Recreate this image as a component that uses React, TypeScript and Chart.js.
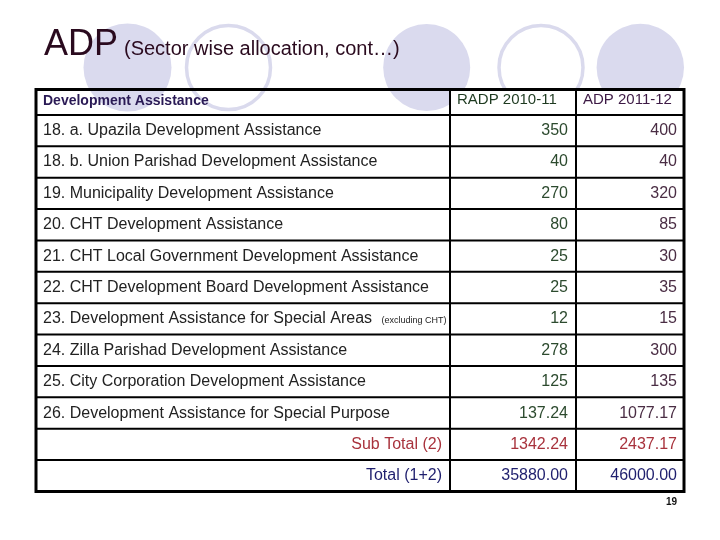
import { useEffect, useRef } from 'react';
import { Chart, registerables } from 'chart.js';

Chart.register(...registerables);

// ---------- data ----------
const titleMain = 'ADP';
const titleSub = '(Sector wise allocation, cont…)';
const headers = ['Development Assistance', 'RADP 2010-11', 'ADP 2011-12'];
const categories = [
  '18. a. Upazila Development Assistance',
  '18. b. Union Parishad Development Assistance',
  '19. Municipality Development Assistance',
  '20. CHT Development Assistance',
  '21. CHT Local Government Development Assistance',
  '22. CHT Development Board Development Assistance',
  '23. Development Assistance for Special Areas',
  '24. Zilla Parishad Development Assistance',
  '25. City Corporation Development Assistance',
  '26. Development Assistance for Special Purpose',
  'Sub Total (2)',
  'Total (1+2)',
];
const notes = ['', '', '', '', '', '', '(excluding CHT)', '', '', '', '', ''];
const radp201011 = [350, 40, 270, 80, 25, 25, 12, 278, 125, 137.24, 1342.24, 35880.0];
const adp201112 = [400, 40, 320, 85, 30, 35, 15, 300, 135, 1077.17, 2437.17, 46000.0];
const rowKinds = ['item', 'item', 'item', 'item', 'item', 'item', 'item', 'item', 'item', 'item', 'subtotal', 'total'];
const pageNumber = '19';

// ---------- layout / style ----------
const FONT = '"Liberation Sans", Arial, sans-serif';
const COL_EDGES = [0, 414, 540, 648]; // x-scale units (table columns)
const HEADER_FRAC = 0.81; // header row height relative to a body row
const CIRCLES = [
  { cx: 127.5, cy: 67.5, r: 44, filled: true },
  { cx: 228.5, cy: 67.5, r: 42, filled: false },
  { cx: 426.7, cy: 67.5, r: 43.5, filled: true },
  { cx: 541, cy: 67.5, r: 42, filled: false },
  { cx: 640.3, cy: 67.5, r: 43.7, filled: true },
];
const KIND_COLORS: Record<string, string[]> = {
  item: ['#222222', '#2c4a2e', '#4a2d44'],
  subtotal: ['#a8323c', '#a8323c', '#a8323c'],
  total: ['#1f1f6e', '#1f1f6e', '#1f1f6e'],
};

const fmt = (v: number, i: number) => (rowKinds[i] === 'item' ? String(v) : v.toFixed(2));

const tablePlugin = {
  id: 'slideTable',
  beforeDraw(chart: any) {
    const ctx = chart.ctx as CanvasRenderingContext2D;
    ctx.save();
    ctx.fillStyle = '#ffffff';
    ctx.fillRect(0, 0, chart.width, chart.height);
    // decorative circles
    for (const c of CIRCLES) {
      ctx.beginPath();
      ctx.arc(c.cx, c.cy, c.r, 0, Math.PI * 2);
      if (c.filled) {
        ctx.fillStyle = '#dadaee';
        ctx.fill();
      } else {
        ctx.strokeStyle = '#dadaed';
        ctx.lineWidth = 3.5;
        ctx.stroke();
      }
    }
    // title
    ctx.fillStyle = '#2a0a1e';
    ctx.textBaseline = 'alphabetic';
    ctx.textAlign = 'left';
    ctx.font = `36px ${FONT}`;
    ctx.fillText(titleMain, 44, 55);
    ctx.font = `20px ${FONT}`;
    ctx.fillText(titleSub, 124, 55);
    ctx.restore();
  },
  afterDraw(chart: any) {
    const ctx = chart.ctx as CanvasRenderingContext2D;
    const xs = chart.scales.x;
    const ys = chart.scales.y;
    const px = (v: number) => xs.getPixelForValue(v);
    const py = (v: number) => ys.getPixelForValue(v);
    const n = categories.length;
    const L = px(COL_EDGES[0]);
    const R = px(COL_EDGES[3]);
    const T = py(-HEADER_FRAC);
    const B = py(n);
    const H0 = py(0);
    ctx.save();
    // white cells
    ctx.fillStyle = '#ffffff';
    ctx.fillRect(L, H0, R - L, B - H0);
    ctx.fillRect(px(COL_EDGES[1]), T, R - px(COL_EDGES[1]), H0 - T);
    // grid
    ctx.strokeStyle = '#000000';
    ctx.lineWidth = 2;
    ctx.beginPath();
    for (let i = 0; i < n; i++) {
      ctx.moveTo(L, py(i));
      ctx.lineTo(R, py(i));
    }
    for (const e of [COL_EDGES[1], COL_EDGES[2]]) {
      ctx.moveTo(px(e), T);
      ctx.lineTo(px(e), B);
    }
    ctx.stroke();
    ctx.lineWidth = 3;
    ctx.strokeRect(L, T, R - L, B - T);

    // header texts
    ctx.textBaseline = 'alphabetic';
    ctx.textAlign = 'left';
    ctx.font = `bold 14px ${FONT}`;
    ctx.fillStyle = '#2a1a55';
    ctx.fillText(headers[0], L + 7, H0 - 9.5);
    ctx.font = `15px ${FONT}`;
    ctx.fillStyle = '#1e3a20';
    ctx.fillText(headers[1], px(COL_EDGES[1]) + 7, H0 - 10.5);
    ctx.fillStyle = '#3d1a45';
    ctx.fillText(headers[2], px(COL_EDGES[2]) + 7, H0 - 10.5);

    // body texts from dataset elements
    const labelMeta = chart.getDatasetMeta(0);
    const m1 = chart.getDatasetMeta(1);
    const m2 = chart.getDatasetMeta(2);
    ctx.font = `16px ${FONT}`;
    for (let i = 0; i < n; i++) {
      const kind = rowKinds[i];
      const colors = KIND_COLORS[kind];
      const lp = labelMeta.data[i];
      ctx.fillStyle = colors[0];
      ctx.font = `16px ${FONT}`;
      if (kind === 'item') {
        ctx.textAlign = 'left';
        ctx.fillText(categories[i], lp.x, lp.y + 4.5);
        if (notes[i]) {
          const w = ctx.measureText(categories[i] + ' ').width;
          ctx.font = `9px ${FONT}`;
          ctx.fillText(notes[i], lp.x + w + 5, lp.y + 4.5);
          ctx.font = `16px ${FONT}`;
        }
      } else {
        ctx.textAlign = 'right';
        ctx.fillText(categories[i], px(COL_EDGES[1]) - 8, lp.y + 4.5);
      }
      ctx.textAlign = 'right';
      ctx.fillStyle = colors[1];
      ctx.fillText(fmt(radp201011[i], i), m1.data[i].x, m1.data[i].y + 4.5);
      ctx.fillStyle = colors[2];
      ctx.fillText(fmt(adp201112[i], i), m2.data[i].x, m2.data[i].y + 4.5);
    }
    // page number
    ctx.font = `bold 10px ${FONT}`;
    ctx.fillStyle = '#111111';
    ctx.textAlign = 'right';
    ctx.fillText(pageNumber, R - 7, B + 13.5);
    ctx.restore();
  },
};

export default function App() {
  const ref = useRef<HTMLCanvasElement | null>(null);
  useEffect(() => {
    document.body.style.margin = '0';
    const canvas = ref.current;
    if (!canvas) return;
    const rows = categories.map((_, i) => i + 0.5);
    const chart = new Chart(canvas, {
      type: 'scatter',
      data: {
        datasets: [
          { label: headers[0], data: rows.map((y) => ({ x: COL_EDGES[0] + 7, y })), pointRadius: 0 },
          { label: headers[1], data: rows.map((y) => ({ x: COL_EDGES[2] - 8, y })), pointRadius: 0 },
          { label: headers[2], data: rows.map((y) => ({ x: COL_EDGES[3] - 7, y })), pointRadius: 0 },
        ],
      },
      options: {
        animation: false,
        responsive: false,
        devicePixelRatio: 1,
        events: [],
        layout: { padding: { left: 36, right: 36, top: 89.5, bottom: 48.5 } },
        plugins: { legend: { display: false }, title: { display: false }, tooltip: { enabled: false } },
        scales: {
          x: { type: 'linear', min: COL_EDGES[0], max: COL_EDGES[3], display: false },
          y: { type: 'linear', min: -HEADER_FRAC, max: categories.length, reverse: true, display: false },
        },
      },
      plugins: [tablePlugin],
    } as any);
    return () => chart.destroy();
  }, []);
  return (
    <div style={{ width: 720, height: 540 }}>
      <canvas ref={ref} width={720} height={540} style={{ display: 'block' }} />
    </div>
  );
}
